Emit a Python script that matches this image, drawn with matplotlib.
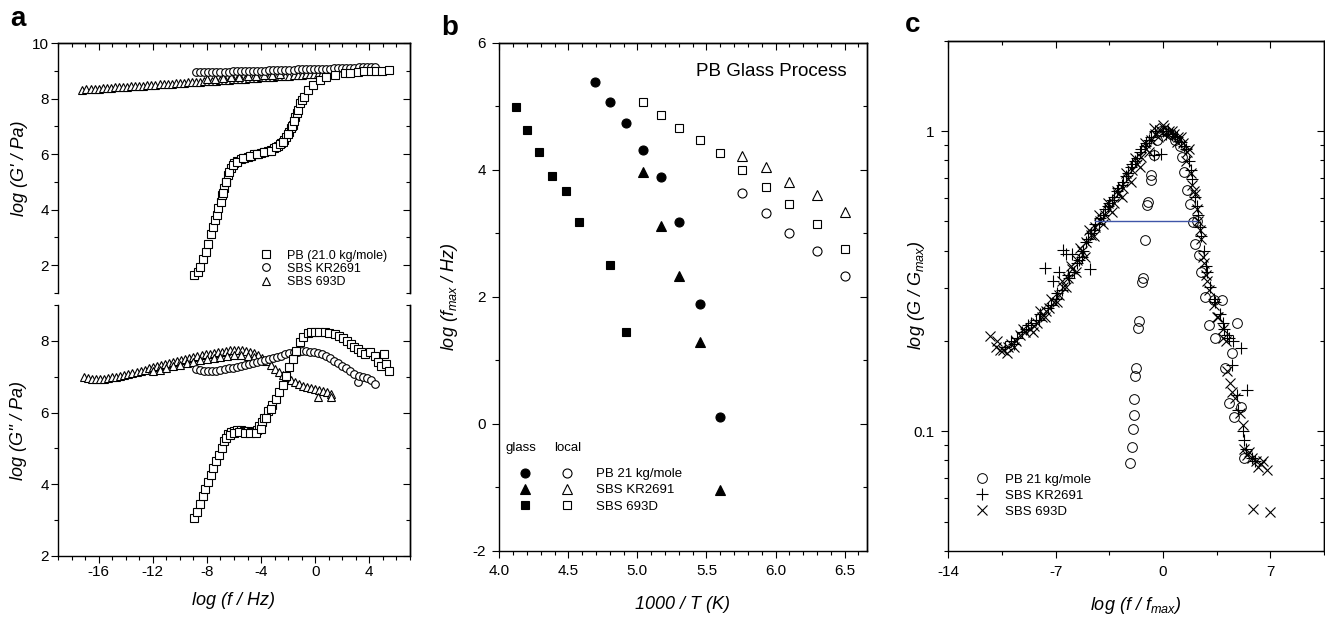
import numpy as np
import matplotlib
matplotlib.use("Agg")
import matplotlib.pyplot as plt
from matplotlib.ticker import MultipleLocator, FixedLocator, LogLocator, NullFormatter
from matplotlib.lines import Line2D

plt.rcParams.update({
    "font.family": ["Liberation Sans", "DejaVu Sans"],
    "mathtext.fontset": "custom",
    "mathtext.rm": "Liberation Sans",
    "mathtext.it": "Liberation Sans:italic",
    "mathtext.bf": "Liberation Sans:bold",
    "axes.linewidth": 1.0,
    "axes.unicode_minus": False,
})

# ── panel a: storage modulus G' (x = log f, y = log G') ─────────────────────
PB_G1 = np.array([
    [-8.94, 1.65], [-8.69, 1.77], [-8.5, 1.95], [-8.32, 2.22], [-8.1, 2.46],
    [-7.9, 2.77], [-7.73, 3.12], [-7.53, 3.39], [-7.4, 3.63], [-7.28, 3.81],
    [-7.16, 4.05], [-6.98, 4.29], [-6.87, 4.53], [-6.72, 4.77], [-6.59, 5.01],
    [-6.42, 5.25], [-6.22, 5.49], [-5.97, 5.67], [-5.75, 5.76], [-5.48, 5.82],
    [-5.25, 5.87], [-4.99, 5.91], [-4.75, 5.95], [-4.5, 5.99], [-4.25, 6.02],
    [-4.0, 6.05], [-3.75, 6.08], [-3.5, 6.11], [-3.25, 6.15], [-3.01, 6.21],
    [-2.75, 6.3], [-2.52, 6.39], [-2.3, 6.5], [-2.15, 6.61], [-1.9, 6.81],
    [-1.78, 6.93], [-1.65, 7.05], [-1.48, 7.35], [-1.38, 7.47], [-1.28, 7.59],
    [-1.09, 7.83], [-0.95, 7.95], [-0.84, 8.07], [-0.54, 8.31], [-0.17, 8.49],
    [0.32, 8.67], [0.81, 8.77], [1.43, 8.85], [2.17, 8.91], [2.6, 8.93],
    [3.16, 8.96], [3.6, 8.98], [4.15, 9.0], [4.5, 9.0], [4.9, 9.0], [5.43, 9.03],
    [-6.8, 4.6], [-6.6, 5.0], [-6.4, 5.35], [-6.1, 5.6], [-5.8, 5.72],
    [-5.3, 5.85], [-4.8, 5.93], [-4.3, 6.0], [-3.8, 6.06], [-3.3, 6.13],
    [-2.9, 6.24], [-2.6, 6.36], [-2.4, 6.45], [-2.0, 6.72], [-1.7, 7.0],
    [-1.55, 7.2],
])

KR_G1 = np.array([
    [-8.8, 8.94], [-8.5, 8.94], [-8.2, 8.95], [-7.9, 8.95], [-7.6, 8.96],
    [-7.3, 8.96], [-7.0, 8.96], [-6.7, 8.97], [-6.4, 8.97], [-6.1, 8.98],
    [-5.8, 8.98], [-5.5, 8.99], [-5.2, 8.99], [-4.9, 9.0], [-4.6, 9.0],
    [-4.3, 9.0], [-4.0, 9.01], [-3.7, 9.01], [-3.4, 9.02], [-3.1, 9.02],
    [-2.8, 9.03], [-2.5, 9.03], [-2.2, 9.04], [-1.9, 9.04], [-1.6, 9.04],
    [-1.3, 9.05], [-1.0, 9.05], [-0.7, 9.06], [-0.4, 9.06], [-0.1, 9.07],
    [0.2, 9.07], [0.5, 9.08], [0.8, 9.08], [1.1, 9.08], [1.4, 9.09],
    [1.7, 9.09], [2.0, 9.1], [2.3, 9.1], [2.6, 9.11], [2.9, 9.11],
    [3.2, 9.12], [3.5, 9.12], [3.8, 9.12], [4.1, 9.13], [4.45, 9.14],
])

D693_G1 = np.array([
    [-17.2, 8.32], [-16.9, 8.33], [-16.6, 8.34], [-16.3, 8.35], [-16.0, 8.36],
    [-15.7, 8.37], [-15.4, 8.38], [-15.1, 8.39], [-14.8, 8.40], [-14.5, 8.41],
    [-14.2, 8.42], [-13.9, 8.43], [-13.6, 8.44], [-13.3, 8.45], [-13.0, 8.46],
    [-12.7, 8.47], [-12.4, 8.48], [-12.1, 8.49], [-11.8, 8.50], [-11.5, 8.51],
    [-11.2, 8.52], [-10.9, 8.53], [-10.6, 8.54], [-10.3, 8.55], [-10.0, 8.56],
    [-9.7, 8.57], [-9.4, 8.58], [-9.1, 8.59], [-8.8, 8.60], [-8.5, 8.61],
    [-8.2, 8.62], [-7.9, 8.63], [-7.6, 8.64], [-7.3, 8.65], [-7.0, 8.66],
    [-6.7, 8.67], [-6.4, 8.68], [-6.1, 8.69], [-5.8, 8.70], [-5.5, 8.71],
    [-5.2, 8.72], [-4.9, 8.73], [-4.6, 8.74], [-4.3, 8.75], [-4.0, 8.76],
    [-3.7, 8.77], [-3.4, 8.78], [-3.1, 8.79], [-2.8, 8.80], [-2.5, 8.81],
    [-2.2, 8.82], [-1.9, 8.83], [-1.6, 8.84], [-1.3, 8.85], [-1.0, 8.86],
    [-0.7, 8.87], [-0.4, 8.88], [-0.1, 8.89], [0.2, 8.90], [0.5, 8.91],
    [0.8, 8.92], [1.1, 8.93],
    [-8.0, 8.70], [-7.4, 8.72], [-6.8, 8.74], [-6.2, 8.76], [-5.6, 8.78],
    [-5.0, 8.80], [-4.4, 8.82], [-3.8, 8.84], [-3.2, 8.86], [-2.6, 8.88],
])

# ── panel a: loss modulus G'' ────────────────────────────────────────────────
PB_G2 = np.array([
    [-8.94, 3.06], [-8.74, 3.24], [-8.52, 3.46], [-8.32, 3.68], [-8.12, 3.87],
    [-7.95, 4.05], [-7.7, 4.27], [-7.53, 4.46], [-7.33, 4.64], [-7.09, 4.83],
    [-6.91, 5.02], [-6.72, 5.2], [-6.47, 5.39], [-6.25, 5.45], [-5.98, 5.48],
    [-5.75, 5.5], [-5.48, 5.5], [-5.25, 5.49], [-4.99, 5.48], [-4.75, 5.47],
    [-4.5, 5.45], [-4.3, 5.5], [-4.13, 5.62], [-3.95, 5.74], [-3.76, 5.86],
    [-3.5, 6.04], [-3.21, 6.2], [-2.89, 6.37], [-2.64, 6.56], [-2.39, 6.76],
    [-2.15, 7.02], [-1.9, 7.26], [-1.65, 7.49], [-1.41, 7.72], [-1.16, 7.96],
    [-0.91, 8.1], [-0.54, 8.21], [-0.3, 8.24], [-0.05, 8.25], [0.3, 8.26],
    [0.69, 8.25], [1.05, 8.23], [1.43, 8.19], [1.75, 8.14], [2.05, 8.07],
    [2.35, 8.0], [2.67, 7.91], [2.9, 7.84], [3.16, 7.77], [3.4, 7.7],
    [3.65, 7.63], [4.02, 7.68], [4.39, 7.58], [4.64, 7.4], [4.89, 7.3],
    [5.09, 7.63], [5.26, 7.35], [5.46, 7.16],
    [-6.6, 5.3], [-6.3, 5.38], [-6.0, 5.42], [-5.6, 5.45], [-5.2, 5.44],
    [-4.8, 5.42], [-4.4, 5.42], [-4.0, 5.55], [-3.6, 5.85], [-3.3, 6.1],
])

KR_G2 = np.array([
    [-8.8, 7.21], [-8.5, 7.19], [-8.2, 7.17], [-7.9, 7.16], [-7.6, 7.16],
    [-7.3, 7.17], [-7.0, 7.19], [-6.7, 7.21], [-6.4, 7.23], [-6.1, 7.25],
    [-5.8, 7.27], [-5.5, 7.29], [-5.2, 7.32], [-4.9, 7.35], [-4.6, 7.38],
    [-4.3, 7.41], [-4.0, 7.44], [-3.7, 7.47], [-3.4, 7.5], [-3.1, 7.53],
    [-2.8, 7.56], [-2.5, 7.59], [-2.2, 7.62], [-1.9, 7.65], [-1.6, 7.68],
    [-1.3, 7.7], [-1.0, 7.71], [-0.7, 7.71], [-0.4, 7.7], [-0.1, 7.69],
    [0.2, 7.66], [0.5, 7.62], [0.8, 7.57], [1.1, 7.51], [1.4, 7.45],
    [1.7, 7.38], [2.0, 7.31], [2.3, 7.24], [2.6, 7.17], [2.9, 7.08],
    [3.16, 6.84], [3.2, 7.02], [3.5, 6.98], [3.8, 6.95], [4.1, 6.92],
    [4.4, 6.79],
])

D693_G2 = np.array([
    [-17.1, 6.98], [-16.8, 6.96], [-16.5, 6.94], [-16.2, 6.93], [-15.9, 6.93],
    [-15.6, 6.94], [-15.3, 6.96], [-15.0, 6.98], [-14.7, 7.0], [-14.4, 7.03],
    [-14.1, 7.05], [-13.8, 7.08], [-13.5, 7.11], [-13.2, 7.14], [-12.9, 7.17],
    [-12.6, 7.2], [-12.3, 7.23], [-12.0, 7.26], [-11.7, 7.29], [-11.4, 7.32],
    [-11.1, 7.35], [-10.8, 7.38], [-10.5, 7.41], [-10.2, 7.44], [-9.9, 7.47],
    [-9.6, 7.5], [-9.3, 7.53], [-9.0, 7.56], [-8.7, 7.58], [-8.4, 7.6],
    [-8.1, 7.62], [-7.8, 7.64], [-7.5, 7.66], [-7.2, 7.68], [-6.9, 7.7],
    [-6.6, 7.72], [-6.3, 7.74], [-6.0, 7.75], [-5.7, 7.75], [-5.4, 7.74],
    [-5.1, 7.72], [-4.8, 7.69], [-4.5, 7.65], [-4.2, 7.6], [-3.9, 7.53],
    [-3.6, 7.44], [-3.3, 7.34], [-3.0, 7.22], [-2.7, 7.12], [-2.4, 7.05],
    [-2.1, 6.98], [-1.8, 6.91], [-1.5, 6.85], [-1.2, 6.8], [-0.9, 6.75],
    [-0.6, 6.71], [-0.3, 6.68], [0.0, 6.65], [0.3, 6.63], [0.6, 6.6],
    [0.9, 6.57], [1.2, 6.52], [0.2, 6.42], [1.2, 6.42],
    [-12.0, 7.15], [-11.5, 7.2], [-11.0, 7.24], [-10.5, 7.29], [-10.0, 7.33],
    [-9.5, 7.38], [-9.0, 7.42], [-8.5, 7.46], [-8.0, 7.5], [-7.5, 7.53],
    [-7.0, 7.56], [-6.5, 7.58], [-6.0, 7.6], [-5.5, 7.6], [-5.0, 7.58],
    [-4.5, 7.54],
])

LABELS_A = ["PB (21.0 kg/mole)", "SBS KR2691", "SBS 693D"]

# ── panel b: 1000/T (K) vs log f_max ─────────────────────────────────────────
PB_GLASS_T = [4.69, 4.80, 4.92, 5.04, 5.17, 5.30, 5.45, 5.60]
PB_GLASS_F = [5.38, 5.07, 4.73, 4.31, 3.89, 3.18, 1.89, 0.10]
KR_GLASS_T = [5.04, 5.17, 5.30, 5.45, 5.60]
KR_GLASS_F = [3.97, 3.12, 2.33, 1.28, -1.04]
D693_GLASS_T = [4.12, 4.20, 4.29, 4.38, 4.48, 4.58, 4.80, 4.92]
D693_GLASS_F = [4.98, 4.63, 4.28, 3.90, 3.67, 3.18, 2.50, 1.45]
PB_LOCAL_T = [5.76, 5.93, 6.10, 6.30, 6.50]
PB_LOCAL_F = [3.63, 3.32, 3.01, 2.72, 2.33]
KR_LOCAL_T = [5.76, 5.93, 6.10, 6.30, 6.50]
KR_LOCAL_F = [4.21, 4.05, 3.81, 3.60, 3.34]
D693_LOCAL_T = [5.04, 5.17, 5.30, 5.45, 5.60, 5.76, 5.93, 6.10, 6.30, 6.50]
D693_LOCAL_F = [5.06, 4.86, 4.66, 4.47, 4.26, 4.00, 3.72, 3.46, 3.14, 2.75]
LABELS_B = ["PB 21 kg/mole", "SBS KR2691", "SBS 693D"]

# ── panel c: normalised loss peak, x = log(f/fmax), y = log10(G/Gmax) ───────
PB_NORM = np.array([
    [-2.14, -1.106], [-2.03, -1.051], [-1.96, -0.992], [-1.92, -0.945],
    [-1.86, -0.893], [-1.81, -0.816], [-1.75, -0.788], [-1.64, -0.657],
    [-1.57, -0.632], [-1.37, -0.502], [-1.33, -0.489], [-1.16, -0.363],
    [-1.05, -0.247], [-1.0, -0.235], [-0.79, -0.164], [-0.79, -0.147],
    [-0.61, -0.081], [-0.4, -0.03], [-0.1, 0.0], [0.2, 0.0], [0.5, -0.01],
    [0.8, -0.03], [1.1, -0.05], [1.24, -0.086], [1.39, -0.136], [1.57, -0.197],
    [1.79, -0.244], [1.96, -0.303], [2.11, -0.375], [2.22, -0.30],
    [2.33, -0.413], [2.49, -0.469], [2.77, -0.552], [2.99, -0.646],
    [3.31, -0.563], [3.42, -0.69], [3.86, -0.563], [4.07, -0.79],
    [4.29, -0.907], [4.51, -0.74], [4.62, -0.951], [4.84, -0.638],
    [5.06, -0.92], [5.27, -1.089],
])

KR_NORM = np.array([
    [-10.3, -0.72], [-9.9, -0.70], [-9.5, -0.69], [-9.2, -0.67], [-8.9, -0.66],
    [-8.6, -0.64], [-8.3, -0.63], [-8.0, -0.61], [-7.7, -0.455], [-7.5, -0.59],
    [-7.2, -0.50], [-7.0, -0.56], [-6.8, -0.47], [-6.6, -0.53], [-6.5, -0.395],
    [-6.3, -0.41], [-6.1, -0.49], [-5.9, -0.41], [-5.8, -0.47], [-5.5, -0.43],
    [-5.2, -0.40], [-5.0, -0.37], [-4.75, -0.46], [-4.7, -0.34], [-4.4, -0.31],
    [-4.1, -0.29], [-3.8, -0.26], [-3.5, -0.24], [-3.2, -0.22], [-2.9, -0.19],
    [-2.6, -0.17], [-2.3, -0.14], [-2.0, -0.11], [-1.7, -0.09], [-1.4, -0.06],
    [-1.1, -0.04], [-0.8, -0.02], [-0.6, -0.08], [-0.5, 0.0], [-0.1, -0.075],
    [0.0, 0.0], [0.3, 0.0], [0.6, -0.01], [0.9, -0.02], [1.2, -0.035],
    [1.5, -0.06], [1.7, -0.10], [1.9, -0.16], [2.1, -0.22], [2.3, -0.28],
    [2.5, -0.35], [2.7, -0.40], [2.9, -0.47], [3.1, -0.52], [3.4, -0.57],
    [3.7, -0.61], [4.0, -0.66], [4.3, -0.69], [4.6, -0.70], [5.06, -0.724],
    [5.5, -0.862], [4.5, -0.78], [4.8, -0.88], [5.2, -1.0], [5.4, -1.06],
    [5.8, -1.09],
    [-9.7, -0.71], [-8.8, -0.645], [-8.1, -0.63], [-7.3, -0.58], [-6.9, -0.54],
    [-6.2, -0.48], [-5.6, -0.44], [-5.3, -0.42], [-4.9, -0.36], [-4.5, -0.33],
    [-4.2, -0.31], [-3.9, -0.28], [-3.6, -0.25], [-3.3, -0.23], [-3.0, -0.20],
    [-2.7, -0.18], [-2.4, -0.15], [-2.1, -0.12], [-1.8, -0.10], [-1.5, -0.07],
    [-1.2, -0.05], [-0.9, -0.03], [0.2, -0.01], [0.8, -0.015], [1.4, -0.05],
    [1.8, -0.13], [2.2, -0.25], [2.4, -0.32], [2.8, -0.45], [3.3, -0.56],
    [3.9, -0.64], [4.2, -0.68], [4.9, -0.93], [5.3, -1.03], [6.0, -1.10],
])

D693_NORM = np.array([
    [-11.3, -0.683], [-10.9, -0.72], [-10.6, -0.73], [-10.4, -0.73],
    [-10.1, -0.72], [-9.9, -0.71], [-9.6, -0.70], [-9.3, -0.68], [-9.0, -0.67],
    [-8.7, -0.66], [-8.4, -0.65], [-8.2, -0.64], [-7.9, -0.62], [-7.6, -0.60],
    [-7.4, -0.59], [-7.1, -0.57], [-6.8, -0.545], [-6.5, -0.52], [-6.2, -0.49],
    [-5.9, -0.46], [-5.6, -0.43], [-5.3, -0.40], [-5.0, -0.37], [-4.7, -0.345],
    [-4.4, -0.32], [-4.1, -0.30], [-3.8, -0.28], [-3.5, -0.26], [-3.2, -0.24],
    [-2.9, -0.21], [-2.6, -0.19], [-2.3, -0.16], [-2.0, -0.13], [-1.7, -0.11],
    [-1.4, -0.085], [-1.1, -0.06], [-0.8, -0.03], [-0.5, -0.01], [-0.2, 0.005],
    [0.1, 0.01], [0.4, 0.0], [0.7, -0.01], [1.0, -0.02], [1.3, -0.04],
    [1.6, -0.07], [1.8, -0.14], [2.0, -0.20], [2.2, -0.26], [2.4, -0.33],
    [2.6, -0.42], [2.8, -0.48], [3.0, -0.53], [3.3, -0.58], [3.6, -0.62],
    [3.9, -0.66], [4.1, -0.70], [4.2, -0.80], [4.4, -0.84], [4.7, -0.89],
    [5.0, -0.94], [5.2, -0.98], [5.3, -1.06], [5.5, -1.08], [5.8, -1.09],
    [6.1, -1.10], [6.4, -1.11], [6.8, -1.13], [5.9, -1.26], [7.0, -1.27],
    [-10.8, -0.70], [-10.2, -0.74], [-9.7, -0.72], [-9.1, -0.66], [-8.5, -0.67],
    [-8.0, -0.60], [-7.7, -0.62], [-7.3, -0.56], [-6.9, -0.57], [-6.6, -0.50],
    [-6.3, -0.52], [-6.0, -0.45], [-5.7, -0.47], [-5.4, -0.39], [-5.1, -0.42],
    [-4.8, -0.33], [-4.5, -0.35], [-4.2, -0.28], [-3.9, -0.31], [-3.6, -0.24],
    [-3.3, -0.27], [-3.0, -0.20], [-2.7, -0.22], [-2.4, -0.14], [-2.1, -0.17],
    [-1.8, -0.09], [-1.5, -0.12], [-1.2, -0.04], [-0.9, -0.07], [-0.6, 0.01],
    [-0.3, -0.02], [0.0, 0.02], [0.3, -0.015], [0.6, 0.0], [0.9, -0.035],
    [1.2, -0.02], [1.5, -0.10], [1.7, -0.06], [1.9, -0.18], [2.1, -0.21],
    [2.3, -0.30], [2.5, -0.36], [2.7, -0.44], [2.9, -0.50], [3.5, -0.62],
    [3.9, -0.69], [4.5, -0.87], [5.6, -1.07], [6.2, -1.12], [6.5, -1.10],
])

HALF_MAX_X = [-4.43, 2.22]
HALF_MAX_Y = 0.5
LABELS_C = ["PB 21 kg/mole", "SBS KR2691", "SBS 693D"]


OPEN = dict(ls="none", mfc="white", mec="black", mew=0.8)
FILLED = dict(ls="none", mfc="black", mec="black", mew=0.8)


def inner_ticks(ax, side, major, minor):
    if side in ("top", "bottom"):
        sec = ax.secondary_xaxis(side)
        axis = sec.xaxis
        sec.tick_params(which="both", direction="in", labeltop=False, labelbottom=False)
    else:
        sec = ax.secondary_yaxis(side)
        axis = sec.yaxis
        sec.tick_params(which="both", direction="in", labelleft=False, labelright=False)
    axis.set_major_locator(major)
    axis.set_minor_locator(minor)
    sec.tick_params(which="major", length=5, width=0.8)
    sec.tick_params(which="minor", length=3, width=0.8)
    return sec


def base_ticks(ax, pad):
    ax.tick_params(which="both", direction="out", top=False, right=False,
                   width=0.8, labelsize=11, pad=pad)
    ax.tick_params(which="major", length=5)
    ax.tick_params(which="minor", length=3)


fig = plt.figure(figsize=(13.25, 6.17), dpi=100)

# ── a (top) ───────────────────────────────────────────────────────────────────
ax1 = fig.add_axes([0.0438, 0.5251, 0.2656, 0.4052])
ax1.plot(D693_G1[:, 0], D693_G1[:, 1], "^", ms=6, **OPEN)
ax1.plot(KR_G1[:, 0], KR_G1[:, 1], "o", ms=5.5, **OPEN)
ax1.plot(PB_G1[:, 0], PB_G1[:, 1], "s", ms=5.5, **OPEN)
ax1.set_xlim(-19, 7)
ax1.set_ylim(1, 10)
ax1.xaxis.set_major_locator(MultipleLocator(4))
ax1.xaxis.set_minor_locator(MultipleLocator(1))
ax1.yaxis.set_major_locator(MultipleLocator(2))
ax1.yaxis.set_minor_locator(MultipleLocator(1))
base_ticks(ax1, 1.5)
ax1.tick_params(which="both", bottom=False, labelbottom=False)
ax1.spines["bottom"].set_visible(False)
inner_ticks(ax1, "top", MultipleLocator(4), MultipleLocator(1))
inner_ticks(ax1, "right", MultipleLocator(2), MultipleLocator(1))
ax1.set_ylabel("log (G' / Pa)", fontsize=13, style="italic")
ax1.yaxis.set_label_coords(-0.085, 0.5)
h_a = [Line2D([], [], marker=m, ms=5.5, **OPEN) for m in ("s", "o", "^")]
ax1.legend(h_a, LABELS_A, loc="lower left", bbox_to_anchor=(0.572, 0.02),
           frameon=False, fontsize=9, handlelength=1.0, handletextpad=1.2,
           labelspacing=0.1, borderpad=0, borderaxespad=0)

# ── a (bottom) ────────────────────────────────────────────────────────────────
ax2 = fig.add_axes([0.0438, 0.0989, 0.2656, 0.4068])
ax2.plot(D693_G2[:, 0], D693_G2[:, 1], "^", ms=6, **OPEN)
ax2.plot(KR_G2[:, 0], KR_G2[:, 1], "o", ms=5.5, **OPEN)
ax2.plot(PB_G2[:, 0], PB_G2[:, 1], "s", ms=5.5, **OPEN)
ax2.set_xlim(-19, 7)
ax2.set_ylim(2, 9)
ax2.xaxis.set_major_locator(MultipleLocator(4))
ax2.xaxis.set_minor_locator(MultipleLocator(1))
ax2.yaxis.set_major_locator(MultipleLocator(2))
ax2.yaxis.set_minor_locator(MultipleLocator(1))
base_ticks(ax2, 1.5)
ax2.spines["top"].set_visible(False)
inner_ticks(ax2, "right", MultipleLocator(2), MultipleLocator(1))
ax2.set_ylabel("log (G'' / Pa)", fontsize=13, style="italic")
ax2.yaxis.set_label_coords(-0.088, 0.5)
ax2.set_xlabel("log (f / Hz)", fontsize=13, style="italic")
ax2.xaxis.set_label_coords(0.5, -0.142)

# ── b ─────────────────────────────────────────────────────────────────────────
ax3 = fig.add_axes([0.3768, 0.1075, 0.2773, 0.8233])
ax3.plot(PB_GLASS_T, PB_GLASS_F, "o", ms=6.5, **FILLED)
ax3.plot(KR_GLASS_T, KR_GLASS_F, "^", ms=6.5, **FILLED)
ax3.plot(D693_GLASS_T, D693_GLASS_F, "s", ms=6, **FILLED)
ax3.plot(PB_LOCAL_T, PB_LOCAL_F, "o", ms=6.5, **OPEN)
ax3.plot(KR_LOCAL_T, KR_LOCAL_F, "^", ms=6.5, **OPEN)
ax3.plot(D693_LOCAL_T, D693_LOCAL_F, "s", ms=5.5, **OPEN)
ax3.set_xlim(4.0, 6.66)
ax3.set_ylim(-2, 6)
ax3.xaxis.set_major_locator(MultipleLocator(0.5))
ax3.xaxis.set_minor_locator(MultipleLocator(0.1))
ax3.yaxis.set_major_locator(MultipleLocator(2))
ax3.yaxis.set_minor_locator(MultipleLocator(1))
ax3.xaxis.set_major_formatter(plt.FormatStrFormatter("%.1f"))
base_ticks(ax3, 4.5)
inner_ticks(ax3, "top", MultipleLocator(0.5), MultipleLocator(0.1))
inner_ticks(ax3, "right", MultipleLocator(2), MultipleLocator(1))
ax3.set_ylabel("log (f$_{max}$ / Hz)", fontsize=13, style="italic")
ax3.yaxis.set_label_coords(-0.107, 0.5)
ax3.set_xlabel("1000 / T (K)", fontsize=13, style="italic")
ax3.xaxis.set_label_coords(0.5, -0.09)
ax3.text(0.9456, 0.943, "PB Glass Process", transform=ax3.transAxes,
         ha="right", va="center", fontsize=13.5)
h_glass = [Line2D([], [], marker=m, ms=6.5 if m != "s" else 6, **FILLED) for m in ("o", "^", "s")]
h_local = [Line2D([], [], marker=m, ms=6.5 if m != "s" else 5.5, **OPEN) for m in ("o", "^", "s")]
ax3.legend(h_glass + h_local, ["", "", ""] + LABELS_B, ncol=2,
           loc="lower left", bbox_to_anchor=(0.052, 0.075), frameon=False,
           fontsize=9.5, handlelength=1.0, handletextpad=1.7, columnspacing=0.5,
           labelspacing=0.3, borderpad=0, borderaxespad=0)
ax3.text(0.059, 0.2016, "glass", transform=ax3.transAxes, ha="center",
         va="center", fontsize=9.5)
ax3.text(0.186, 0.2016, "local", transform=ax3.transAxes, ha="center",
         va="center", fontsize=9.5)

# ── c ─────────────────────────────────────────────────────────────────────────
ax4 = fig.add_axes([0.7157, 0.1075, 0.2835, 0.8265])
ax4.plot(PB_NORM[:, 0], 10 ** PB_NORM[:, 1], "o", ms=7, mfc="none", mec="black",
         mew=0.7, ls="none")
ax4.plot(KR_NORM[:, 0], 10 ** KR_NORM[:, 1], "+", ms=8, mec="black", mew=0.8, ls="none")
ax4.plot(D693_NORM[:, 0], 10 ** D693_NORM[:, 1], "x", ms=7, mec="black", mew=0.8, ls="none")
ax4.plot(HALF_MAX_X, [HALF_MAX_Y, HALF_MAX_Y], color="#3f55a8", lw=1.0)
ax4.set_xlim(-14, 10.5)
ax4.set_yscale("log")
ax4.set_ylim(0.04, 2)
ax4.xaxis.set_major_locator(MultipleLocator(7))
ax4.xaxis.set_minor_locator(MultipleLocator(3.5))
ax4.yaxis.set_major_locator(FixedLocator([0.1, 1]))
ax4.yaxis.set_minor_locator(LogLocator(base=10, subs=np.arange(2, 10), numticks=12))
ax4.yaxis.set_major_formatter(plt.FixedFormatter(["0.1", "1"]))
ax4.yaxis.set_minor_formatter(NullFormatter())
base_ticks(ax4, 5)
inner_ticks(ax4, "top", MultipleLocator(7), MultipleLocator(3.5))
inner_ticks(ax4, "right", FixedLocator([0.1, 1]),
            LogLocator(base=10, subs=np.arange(2, 10), numticks=12))
ax4.set_ylabel("log (G / G$_{max}$)", fontsize=13, style="italic")
ax4.yaxis.set_label_coords(-0.057, 0.5)
ax4.set_xlabel("log (f / f$_{max}$)", fontsize=13, style="italic")
ax4.xaxis.set_label_coords(0.5, -0.087)
h_c = [Line2D([], [], marker="o", ms=7, mfc="none", mec="black", mew=0.7, ls="none"),
       Line2D([], [], marker="+", ms=8, mec="black", mew=0.8, ls="none"),
       Line2D([], [], marker="x", ms=7, mec="black", mew=0.8, ls="none")]
ax4.legend(h_c, LABELS_C, loc="lower left", bbox_to_anchor=(0.071, 0.064),
           frameon=False, fontsize=9.5, handlelength=1.0, handletextpad=1.3,
           labelspacing=0.3, borderpad=0, borderaxespad=0)

# panel letters
fig.text(0.0075, 0.958, "a", fontsize=20, fontweight="bold", va="baseline")
fig.text(0.333, 0.943, "b", fontsize=20, fontweight="bold", va="baseline")
fig.text(0.683, 0.9487, "c", fontsize=20, fontweight="bold", va="baseline")

fig.savefig("out.png", dpi=100)
